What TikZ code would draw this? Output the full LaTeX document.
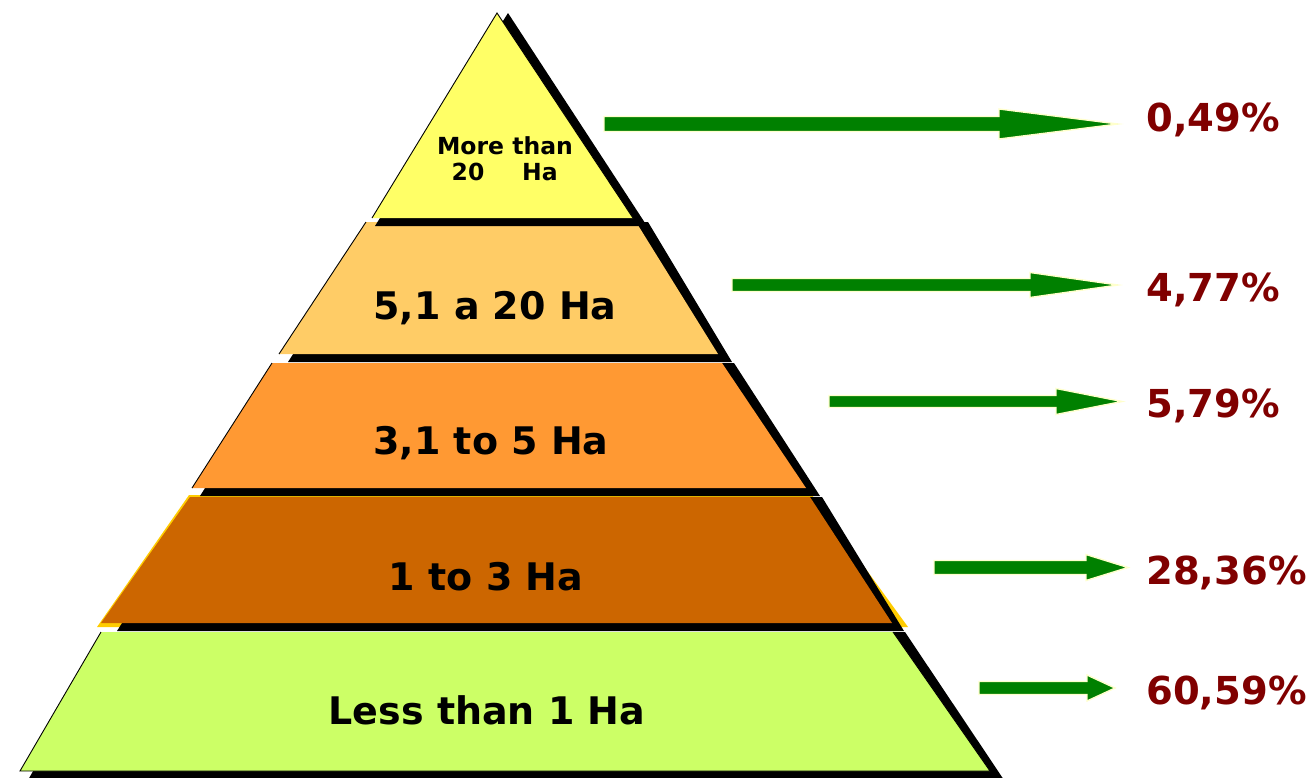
\documentclass[tikz,border=0pt]{standalone}
\usepackage{fontspec}
\setmainfont{DejaVu Sans}
\definecolor{bandA}{HTML}{FFFF66}
\definecolor{bandB}{HTML}{FFCC66}
\definecolor{bandC}{HTML}{FF9933}
\definecolor{bandD}{HTML}{CC6600}
\definecolor{bandE}{HTML}{CCFF66}
\definecolor{goldedge}{HTML}{FFCC00}
\definecolor{arrgreen}{HTML}{008000}
\definecolor{arredge}{HTML}{FFFFCC}
\definecolor{pctred}{HTML}{800000}
\tikzset{
  band/.style={draw=black, line width=0.9pt, line join=miter},
  shade/.style={fill=black},
  bandlabel/.style={anchor=base, font=\bfseries\fontsize{38}{42}\selectfont, text=black, inner sep=0pt},
  toplabel/.style={anchor=base, font=\bfseries\fontsize{23.5}{26}\selectfont, text=black, inner sep=0pt},
  pct/.style={anchor=base west, font=\bfseries\fontsize{38.5}{42}\selectfont, text=pctred, inner sep=0pt},
  grarrow/.style={fill=arrgreen, draw=arredge, line width=1.4pt, line join=miter}
}
% #1 start x, #2 head base x, #3 tip x, #4 center y, #5 half shaft, #6 half head
\newcommand\GreenArrow[6]{%
  \draw[grarrow] (#1,#4-#5) -- (#2,#4-#5) -- (#2,#4-#6) -- (#3,#4) -- (#2,#4+#6) -- (#2,#4+#5) -- (#1,#4+#5) -- cycle;}
\begin{document}
\begin{tikzpicture}[x=1pt,y=-1pt]
\useasboundingbox (0,0) rectangle (1313,777);
% ---- band 5 (bottom)
\fill[shade] (113,632) -- (905,632) -- (1004,780) -- (28,780) -- cycle;
\fill[bandE] (101,632) -- (893,632) -- (990,771) -- (20,771) -- cycle;
\draw[band] (101,632) -- (20,771) -- (990,771) -- (893,632);
% ---- band 4
\fill[goldedge] (189,495) -- (812,495) -- (908,627) -- (97,627) -- cycle;
\fill[shade] (202,497) -- (822,497) -- (904,631) -- (117,631) -- cycle;
\fill[bandD] (190,497) -- (810,497) -- (892,623) -- (101,623) -- cycle;
% ---- band 3
\fill[shade] (284,363) -- (734,363) -- (820,496) -- (200,496) -- cycle;
\fill[bandC] (272,363) -- (722,363) -- (806,488) -- (192,488) -- cycle;
\draw[band] (272,363) -- (192,488);
% ---- band 2
\fill[shade] (378,222) -- (648,222) -- (732,362) -- (288,362) -- cycle;
\fill[bandB] (366,222) -- (636,222) -- (718,354) -- (279,354) -- cycle;
\draw[band] (366,222) -- (279,354);
% ---- band 1 (top triangle)
\fill[shade] (508,13) -- (647,226) -- (375,226) -- cycle;
\fill[bandA] (497,13) -- (633,218) -- (372,218) -- cycle;
\draw[band] (633,218) -- (497,13) -- (372,218);
% ---- labels
\node[toplabel] (t1a) at (505,154) {More than};
\node[toplabel] (t1b) at (468,180) {20};
\node[toplabel] (t1c) at (540,180) {Ha};
\node[bandlabel] (t2) at (495,319) {5,1 a 20 Ha};
\node[bandlabel] (t3) at (491,454) {3,1 to 5 Ha};
\node[bandlabel] (t4) at (486,590) {1 to 3 Ha};
\node[bandlabel] (t5) at (487,724) {Less than 1 Ha};
% ---- arrows
\GreenArrow{604}{999}{1118}{124}{7.5}{15}
\GreenArrow{732}{1030}{1118}{285}{6.5}{12.5}
\GreenArrow{829}{1056}{1122}{401.5}{6}{13}
\GreenArrow{934}{1086}{1128}{567.5}{7}{13}
\GreenArrow{979}{1087}{1115}{688}{6.5}{13}
% ---- percentages
\node[pct] (p1) at (1146,131) {0,49\%};
\node[pct] (p2) at (1146,301) {4,77\%};
\node[pct] (p3) at (1146,417) {5,79\%};
\node[pct] (p4) at (1146,584) {28,36\%};
\node[pct] (p5) at (1146,704) {60,59\%};
\end{tikzpicture}
\end{document}
